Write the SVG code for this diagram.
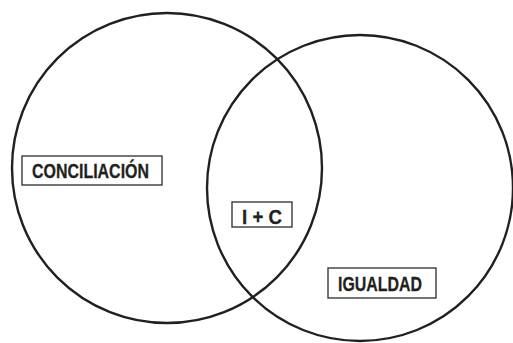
<svg xmlns="http://www.w3.org/2000/svg" width="513" height="343" viewBox="0 0 513 343">
<style>
.c{fill:none;stroke:#231f20;stroke-width:2.4}
.b{fill:#fff;stroke:#3a3a3a;stroke-width:1.4}
.t{font-family:"Liberation Sans",Arial,sans-serif;font-weight:bold;font-size:21px;fill:#231f20;stroke:#231f20;stroke-width:0.3}
</style>
<rect width="513" height="343" fill="#fff"/>
<g id="circles">
<circle id="circle-conciliacion" class="c" cx="167" cy="168" r="155"/>
<circle id="circle-igualdad" class="c" cx="360" cy="188" r="153"/>
</g>
<g id="node-conciliacion">
<rect class="b" x="22" y="156" width="140" height="29"/>
<text class="t" x="32" y="178" textLength="117" lengthAdjust="spacingAndGlyphs">CONCILIACIÓN</text>
</g>
<g id="node-ic">
<rect class="b" x="232" y="202" width="60" height="25"/>
<text class="t" x="242" y="223.5" textLength="40" lengthAdjust="spacingAndGlyphs">I + C</text>
</g>
<g id="node-igualdad">
<rect class="b" x="328" y="268" width="108" height="30"/>
<text class="t" x="338" y="290.5" textLength="84" lengthAdjust="spacingAndGlyphs">IGUALDAD</text>
</g>
<g id="connectors"></g>
</svg>
